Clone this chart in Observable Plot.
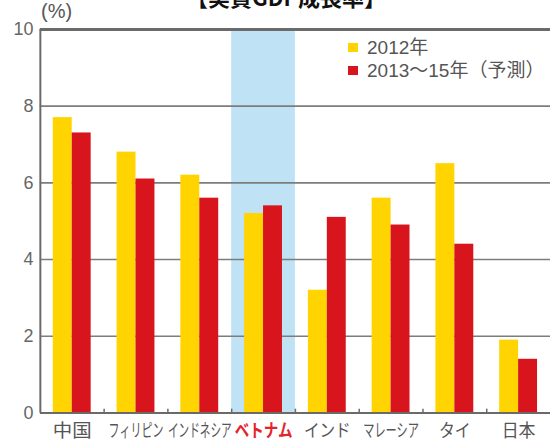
<!DOCTYPE html>
<html>
<head>
<meta charset="utf-8">
<script src="https://cdn.jsdelivr.net/npm/d3@7"></script>
<script src="https://cdn.jsdelivr.net/npm/@observablehq/plot@0.6"></script>
<style>
  html, body { margin: 0; padding: 0; background: #fff; }
  #wrap { position: relative; width: 550px; height: 443px; overflow: hidden; background: #fff;
          font-family: "Liberation Sans", "Noto Sans CJK JP", sans-serif; color: #555; }
  #title { position: absolute; left: 0; width: 572px; top: -17px; text-align: center;
           font: bold 22px "Noto Sans CJK JP", sans-serif; color: #111; line-height: 26px; }
  #unit { position: absolute; left: 41px; top: 0px; font-size: 20px; color: #555; line-height: 22px; }
  #legend { position: absolute; left: 348px; top: 36px; font-size: 19px; line-height: 23px; color: #555;
            font-family: "Liberation Sans", "Noto Sans CJK JP", sans-serif; }
  #legend .row { display: flex; align-items: center; white-space: nowrap; }
  #legend .sw { width: 10px; height: 9px; margin-right: 9px; }
  #chart { position: absolute; left: 0; top: 0; }
</style>
</head>
<body>
<div id="wrap">
  <div id="chart"></div>
  <div id="title"></div>
  <div id="unit"></div>
  <div id="legend"></div>
</div>
<script>
// ---- data ----
const title = "【実質GDP成長率】";
const unitLabel = "(%)";
const countries = ["中国", "フィリピン", "インドネシア", "ベトナム", "インド", "マレーシア", "タイ", "日本"];
const seriesNames = ["2012年", "2013～15年（予測）"];
const values2012 = [7.7, 6.8, 6.2, 5.2, 3.2, 5.6, 6.5, 1.9];
const values2013to15 = [7.3, 6.1, 5.6, 5.4, 5.1, 4.9, 4.4, 1.4];
const yTicks = [0, 2, 4, 6, 8, 10];
const highlighted = "ベトナム";

// ---- styles ----
const colors = ["#ffd400", "#d8151c"];
const bandColor = "#bfe3f4";
const labelWidths = {"中国": 39, "フィリピン": 55, "インドネシア": 64, "ベトナム": 58, "インド": 47, "マレーシア": 56, "タイ": 32, "日本": 34};

const rows = countries.map((c, i) => ({country: c, a: values2012[i], b: values2013to15[i]}));

const plot = Plot.plot({
  width: 552,
  height: 443,
  marginTop: 29,
  marginBottom: 29,
  marginLeft: 40,
  marginRight: 0,
  style: {fontFamily: "'Liberation Sans', 'Noto Sans CJK JP', sans-serif", background: "transparent"},
  x: {domain: countries, padding: 0, label: null},
  y: {domain: [0, 10], ticks: yTicks, label: null},
  marks: [
    Plot.barY([highlighted], {x: d => d, y1: 0, y2: 10, fill: bandColor}),
    Plot.ruleY(yTicks.filter(t => t > 0 && t < 10), {stroke: "#7d7d7d", strokeWidth: 1.6}),
    Plot.barY(rows, {x: "country", y: "a", fill: colors[0], insetLeft: 13, insetRight: 32}),
    Plot.barY(rows, {x: "country", y: "b", fill: colors[1], insetLeft: 32, insetRight: 13}),
    Plot.ruleY([10], {stroke: "#6a6a6a", strokeWidth: 3}),
    Plot.ruleY([0], {stroke: "#6a6a6a", strokeWidth: 2}),
    Plot.ruleX(countries.slice(1), {x: d => d, dx: -32, y1: 0, y2: 0.1, stroke: "#6a6a6a", strokeWidth: 1.5}),
    Plot.ruleX([countries[0]], {x: d => d, dx: -32, y1: 0, y2: 10, stroke: "#6a6a6a", strokeWidth: 2}),
    Plot.axisY({ticks: yTicks, tickSize: 0, tickPadding: 7, fontSize: 18, color: "#666", label: null, tickFormat: d => String(d)}),
    Plot.axisX({tickSize: 0, tickPadding: 11, fontSize: 18, color: "#555", label: null,
                fontFamily: "'Noto Sans CJK JP', sans-serif"})
  ]
});
document.getElementById("chart").appendChild(plot);

// compress x tick labels horizontally to their printed widths, highlight Vietnam
d3.select(plot).selectAll("g[aria-label='x-axis tick label'] text").each(function() {
  const t = d3.select(this);
  const label = t.text();
  const natural = this.getComputedTextLength();
  const target = labelWidths[label];
  if (target && natural > 0) {
    const sx = target / natural;
    const tr = t.attr("transform") || "";
    t.attr("transform", tr + ` scale(${sx.toFixed(3)},1)`);
  }
  if (label === highlighted) t.attr("fill", "#e4232b").attr("font-weight", "bold");
});

document.getElementById("title").textContent = title;
document.getElementById("unit").textContent = unitLabel;
const legend = d3.select("#legend");
seriesNames.forEach((name, i) => {
  const row = legend.append("div").attr("class", "row");
  row.append("div").attr("class", "sw").style("background", colors[i]);
  row.append("span").text(name);
});
</script>
</body>
</html>
